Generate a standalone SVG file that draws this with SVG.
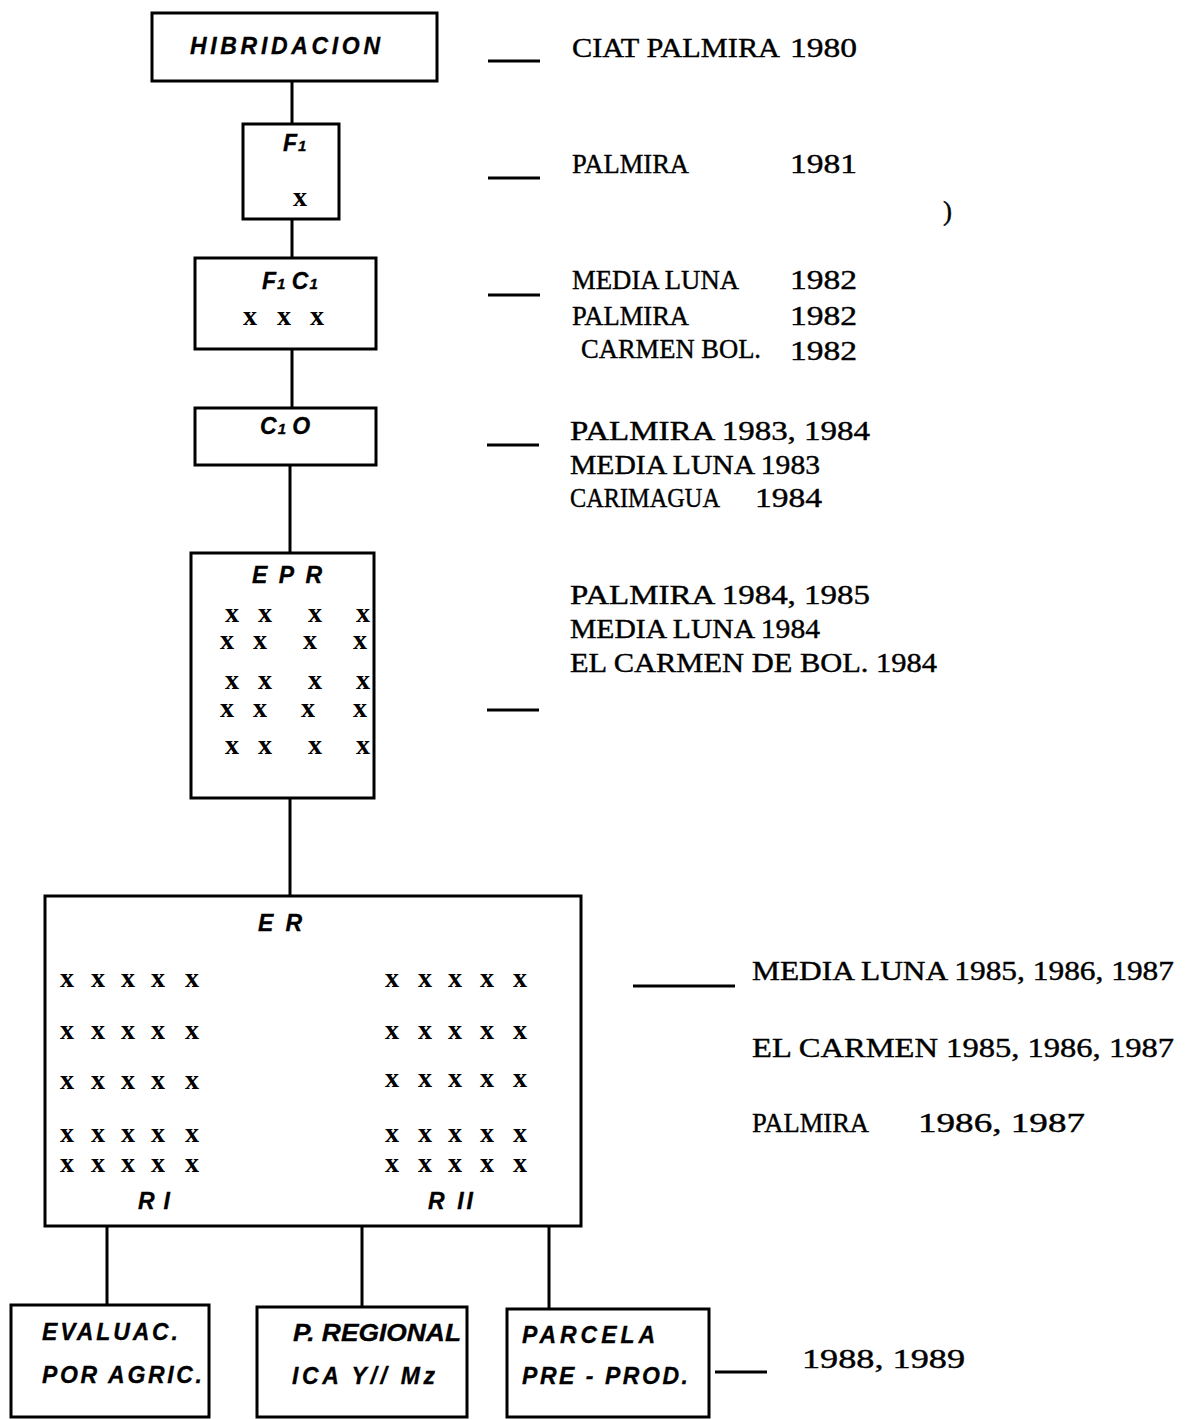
<svg xmlns="http://www.w3.org/2000/svg" width="1188" height="1419" viewBox="0 0 1188 1419">
<style>
.box{fill:none;stroke:#000;stroke-width:3}
.lbl{font-family:"Liberation Sans",Arial,sans-serif;font-weight:bold;font-style:italic;font-size:23px;fill:#000;stroke:#000;stroke-width:0.3}
.sub{font-size:15px}
.tw{font-family:"Liberation Serif","Times New Roman",serif;font-size:27px;fill:#000;stroke:#000;stroke-width:0.4}
.xm{font-family:"Liberation Serif","Times New Roman",serif;font-weight:bold;font-size:28px;text-anchor:middle;fill:#000}
#connectors line{stroke:#000;stroke-width:3}
</style>
<rect width="1188" height="1419" fill="#fff"/>
<g id="connectors">
<line x1="292" y1="81" x2="292" y2="124"/>
<line x1="292" y1="219" x2="292" y2="258"/>
<line x1="292" y1="349" x2="292" y2="408"/>
<line x1="290" y1="465" x2="290" y2="553"/>
<line x1="290" y1="798" x2="290" y2="896"/>
<line x1="107" y1="1226" x2="107" y2="1305"/>
<line x1="362" y1="1226" x2="362" y2="1307"/>
<line x1="549" y1="1226" x2="549" y2="1309"/>
<line x1="488" y1="61" x2="540" y2="61"/>
<line x1="488" y1="178" x2="540" y2="178"/>
<line x1="488" y1="295" x2="540" y2="295"/>
<line x1="487" y1="445" x2="539" y2="445"/>
<line x1="487" y1="710" x2="539" y2="710"/>
<line x1="633" y1="986" x2="735" y2="986"/>
<line x1="715" y1="1372" x2="767" y2="1372"/>
</g>
<g id="hibridacion">
<rect class="box" x="152" y="13" width="285" height="68"/>
<text class="lbl" x="190" y="54" textLength="190" lengthAdjust="spacing">HIBRIDACION</text>
</g>
<g id="f1">
<rect class="box" x="243" y="124" width="96" height="95"/>
<text class="lbl" x="283" y="151">F<tspan class="sub" dx="1">1</tspan></text>
<text class="xm" x="300" y="206">x</text>
</g>
<g id="f1c1">
<rect class="box" x="195" y="258" width="181" height="91"/>
<text class="lbl" x="262" y="289">F<tspan class="sub" dx="1">1</tspan> C<tspan class="sub" dx="1">1</tspan></text>
<text class="xm" x="250" y="325">x</text>
<text class="xm" x="284" y="325">x</text>
<text class="xm" x="317" y="325">x</text>
</g>
<g id="c1o">
<rect class="box" x="195" y="408" width="181" height="57"/>
<text class="lbl" x="260" y="434">C<tspan class="sub" dx="1">1</tspan> O</text>
</g>
<g id="epr">
<rect class="box" x="191" y="553" width="183" height="245"/>
<text class="lbl" x="252" y="583" textLength="70" lengthAdjust="spacing">EPR</text>
<text class="xm" x="232" y="622">x</text><text class="xm" x="265" y="622">x</text><text class="xm" x="315" y="622">x</text><text class="xm" x="363" y="622">x</text>
<text class="xm" x="227" y="649">x</text><text class="xm" x="260" y="649">x</text><text class="xm" x="310" y="649">x</text><text class="xm" x="360" y="649">x</text>
<text class="xm" x="232" y="689">x</text><text class="xm" x="265" y="689">x</text><text class="xm" x="315" y="689">x</text><text class="xm" x="363" y="689">x</text>
<text class="xm" x="227" y="717">x</text><text class="xm" x="260" y="717">x</text><text class="xm" x="308" y="717">x</text><text class="xm" x="360" y="717">x</text>
<text class="xm" x="232" y="754">x</text><text class="xm" x="265" y="754">x</text><text class="xm" x="315" y="754">x</text><text class="xm" x="363" y="754">x</text>
</g>
<g id="er">
<rect class="box" x="45" y="896" width="536" height="330"/>
<text class="lbl" x="258" y="931" textLength="44" lengthAdjust="spacing">ER</text>
<g id="er-r1">
<text class="xm" x="67" y="987">x</text><text class="xm" x="98" y="987">x</text><text class="xm" x="128" y="987">x</text><text class="xm" x="158" y="987">x</text><text class="xm" x="192" y="987">x</text>
<text class="xm" x="67" y="1039">x</text><text class="xm" x="98" y="1039">x</text><text class="xm" x="128" y="1039">x</text><text class="xm" x="158" y="1039">x</text><text class="xm" x="192" y="1039">x</text>
<text class="xm" x="67" y="1089">x</text><text class="xm" x="98" y="1089">x</text><text class="xm" x="128" y="1089">x</text><text class="xm" x="158" y="1089">x</text><text class="xm" x="192" y="1089">x</text>
<text class="xm" x="67" y="1142">x</text><text class="xm" x="98" y="1142">x</text><text class="xm" x="128" y="1142">x</text><text class="xm" x="158" y="1142">x</text><text class="xm" x="192" y="1142">x</text>
<text class="xm" x="67" y="1172">x</text><text class="xm" x="98" y="1172">x</text><text class="xm" x="128" y="1172">x</text><text class="xm" x="158" y="1172">x</text><text class="xm" x="192" y="1172">x</text>
<text class="lbl" x="138" y="1209" font-size="20" textLength="32" lengthAdjust="spacing">RI</text>
</g>
<g id="er-r2">
<text class="xm" x="392" y="987">x</text><text class="xm" x="425" y="987">x</text><text class="xm" x="455" y="987">x</text><text class="xm" x="487" y="987">x</text><text class="xm" x="520" y="987">x</text>
<text class="xm" x="392" y="1039">x</text><text class="xm" x="425" y="1039">x</text><text class="xm" x="455" y="1039">x</text><text class="xm" x="487" y="1039">x</text><text class="xm" x="520" y="1039">x</text>
<text class="xm" x="392" y="1087">x</text><text class="xm" x="425" y="1087">x</text><text class="xm" x="455" y="1087">x</text><text class="xm" x="487" y="1087">x</text><text class="xm" x="520" y="1087">x</text>
<text class="xm" x="392" y="1142">x</text><text class="xm" x="425" y="1142">x</text><text class="xm" x="455" y="1142">x</text><text class="xm" x="487" y="1142">x</text><text class="xm" x="520" y="1142">x</text>
<text class="xm" x="392" y="1172">x</text><text class="xm" x="425" y="1172">x</text><text class="xm" x="455" y="1172">x</text><text class="xm" x="487" y="1172">x</text><text class="xm" x="520" y="1172">x</text>
<text class="lbl" x="428" y="1209" font-size="20" textLength="45" lengthAdjust="spacing">R II</text>
</g>
</g>
<g id="evaluac">
<rect class="box" x="11" y="1305" width="198" height="112"/>
<text class="lbl" x="42" y="1340" textLength="136" lengthAdjust="spacing">EVALUAC.</text>
<text class="lbl" x="42" y="1383" textLength="160" lengthAdjust="spacing">POR AGRIC.</text>
</g>
<g id="regional">
<rect class="box" x="257" y="1307" width="210" height="110"/>
<text class="lbl" x="293" y="1341" textLength="168" lengthAdjust="spacingAndGlyphs">P. REGIONAL</text>
<text class="lbl" x="292" y="1384" textLength="143" lengthAdjust="spacing">ICA Y// Mz</text>
</g>
<g id="parcela">
<rect class="box" x="507" y="1309" width="202" height="108"/>
<text class="lbl" x="522" y="1343" textLength="133" lengthAdjust="spacing">PARCELA</text>
<text class="lbl" x="522" y="1384" textLength="166" lengthAdjust="spacing">PRE - PROD.</text>
</g>
<g id="notes">
<text class="tw" x="572" y="57" textLength="208" lengthAdjust="spacingAndGlyphs">CIAT PALMIRA</text>
<text class="tw" x="790" y="57" textLength="67" lengthAdjust="spacingAndGlyphs">1980</text>
<text class="tw" x="572" y="173" textLength="117" lengthAdjust="spacingAndGlyphs">PALMIRA</text>
<text class="tw" x="790" y="173" textLength="67" lengthAdjust="spacingAndGlyphs">1981</text>
<text class="tw" x="943" y="220" font-size="20">)</text>
<text class="tw" x="572" y="289" textLength="167" lengthAdjust="spacingAndGlyphs">MEDIA LUNA</text>
<text class="tw" x="790" y="289" textLength="67" lengthAdjust="spacingAndGlyphs">1982</text>
<text class="tw" x="572" y="325" textLength="117" lengthAdjust="spacingAndGlyphs">PALMIRA</text>
<text class="tw" x="790" y="325" textLength="67" lengthAdjust="spacingAndGlyphs">1982</text>
<text class="tw" x="581" y="358" textLength="180" lengthAdjust="spacingAndGlyphs">CARMEN BOL.</text>
<text class="tw" x="790" y="360" textLength="67" lengthAdjust="spacingAndGlyphs">1982</text>
<text class="tw" x="570" y="440" textLength="300" lengthAdjust="spacingAndGlyphs">PALMIRA 1983, 1984</text>
<text class="tw" x="570" y="474" textLength="250" lengthAdjust="spacingAndGlyphs">MEDIA LUNA 1983</text>
<text class="tw" x="570" y="507" textLength="150" lengthAdjust="spacingAndGlyphs">CARIMAGUA</text>
<text class="tw" x="755" y="507" textLength="67" lengthAdjust="spacingAndGlyphs">1984</text>
<text class="tw" x="570" y="604" textLength="300" lengthAdjust="spacingAndGlyphs">PALMIRA 1984, 1985</text>
<text class="tw" x="570" y="638" textLength="250" lengthAdjust="spacingAndGlyphs">MEDIA LUNA 1984</text>
<text class="tw" x="570" y="672" textLength="367" lengthAdjust="spacingAndGlyphs">EL CARMEN DE BOL. 1984</text>
<text class="tw" x="752" y="980" textLength="422" lengthAdjust="spacingAndGlyphs">MEDIA LUNA 1985, 1986, 1987</text>
<text class="tw" x="752" y="1057" textLength="422" lengthAdjust="spacingAndGlyphs">EL CARMEN 1985, 1986, 1987</text>
<text class="tw" x="752" y="1132" textLength="117" lengthAdjust="spacingAndGlyphs">PALMIRA</text>
<text class="tw" x="918" y="1132" textLength="167" lengthAdjust="spacingAndGlyphs">1986, 1987</text>
<text class="tw" x="802" y="1368" textLength="163" lengthAdjust="spacingAndGlyphs">1988, 1989</text>
</g>
</svg>
